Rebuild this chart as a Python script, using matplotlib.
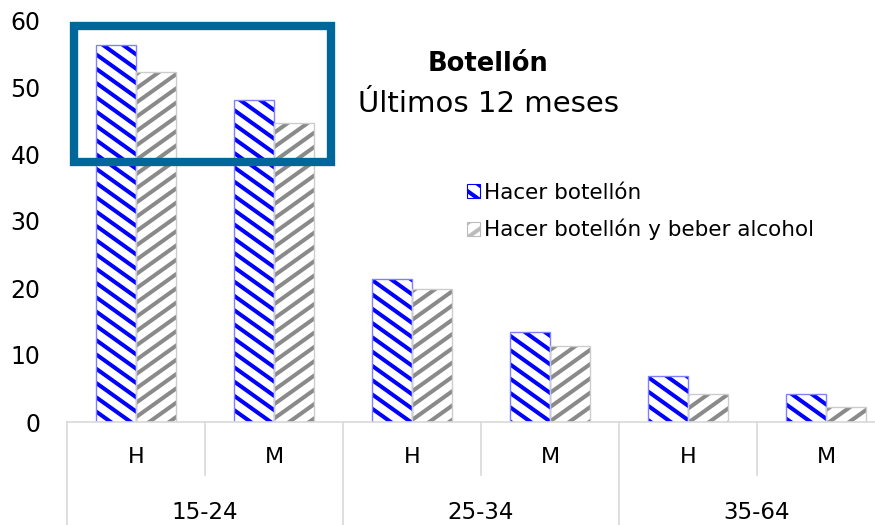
import matplotlib
matplotlib.use("Agg")
import matplotlib.pyplot as plt
import matplotlib.transforms as mtransforms
import matplotlib.hatch as mhatch
from matplotlib.path import Path
from matplotlib.patches import Rectangle, Patch
import numpy as np

# ---------------------------- data ----------------------------
sexes = ["H", "M", "H", "M", "H", "M"]
age_groups = ["15-24", "25-34", "35-64"]
botellon = [56.3, 48.0, 21.3, 13.4, 6.8, 4.2]
botellon_alcohol = [52.2, 44.7, 19.9, 11.4, 4.2, 2.2]
series_names = ["Hacer botellón", "Hacer botellón y beber alcohol"]
yticks = [0, 10, 20, 30, 40, 50, 60]


# ---------------------------- rayas tipo Excel (pendiente 5/7) ----------------------------
N_RAYAS = 7
PEND = 5 / 7


class RayasBajada(mhatch.HatchPatternBase):
    """'\\' : rayas que bajan hacia la derecha"""
    def __init__(self, hatch, density):
        n = hatch.count('\\')
        self.offsets = np.arange(-2, 15) / N_RAYAS if n else np.array([])
        self.num_vertices = 2 * len(self.offsets)

    def set_vertices_and_codes(self, vertices, codes):
        c = self.offsets
        vertices[0::2, 0] = -0.2
        vertices[0::2, 1] = c + 0.2 * PEND
        vertices[1::2, 0] = 1.2
        vertices[1::2, 1] = c - 1.2 * PEND
        codes[0::2] = Path.MOVETO
        codes[1::2] = Path.LINETO


class RayasSubida(mhatch.HatchPatternBase):
    """'/' : rayas que suben hacia la derecha"""
    def __init__(self, hatch, density):
        n = hatch.count('/')
        self.offsets = np.arange(-8, 10) / N_RAYAS if n else np.array([])
        self.num_vertices = 2 * len(self.offsets)

    def set_vertices_and_codes(self, vertices, codes):
        c = self.offsets
        vertices[0::2, 0] = -0.2
        vertices[0::2, 1] = c - 0.2 * PEND
        vertices[1::2, 0] = 1.2
        vertices[1::2, 1] = c + 1.2 * PEND
        codes[0::2] = Path.MOVETO
        codes[1::2] = Path.LINETO


mhatch._hatch_types = [t for t in mhatch._hatch_types
                       if t not in (mhatch.NorthEastHatch, mhatch.SouthEastHatch)]
mhatch._hatch_types += [RayasBajada, RayasSubida]

plt.rcParams['font.family'] = ['DejaVu Sans']
plt.rcParams['hatch.linewidth'] = 2.9

fig = plt.figure(figsize=(8.75, 5.25), dpi=100)
ax = fig.add_axes([67 / 875, 103 / 525, 828 / 875, 402 / 525])

x = np.arange(len(sexes))
w = 0.29

blue = "#0000FF"
grey = "#8A8A8A"

# relleno con rayas
ax.bar(x - w / 2, botellon, w, color="white", edgecolor=blue, hatch="\\", linewidth=0)
ax.bar(x + w / 2, botellon_alcohol, w, color="white", edgecolor=grey, hatch="/", linewidth=0)
# contornos
ax.bar(x - w / 2, botellon, w, fill=False, edgecolor="#8080FF", linewidth=1)
ax.bar(x + w / 2, botellon_alcohol, w, fill=False, edgecolor="#CCCCCC", linewidth=1)

ax.set_xlim(-0.5, len(sexes) - 0.5)
ax.set_ylim(0, 60)
ax.set_yticks(yticks)
ax.tick_params(axis="y", length=0, pad=19, labelsize=17)
ax.set_xticks([])
for s in ["top", "right", "left"]:
    ax.spines[s].set_visible(False)
ax.spines["bottom"].set_color("#D9D9D9")
ax.spines["bottom"].set_linewidth(1.2)

# ejes de categorías en dos niveles
trans = mtransforms.blended_transform_factory(ax.transData, ax.transAxes)
for i, s in enumerate(sexes):
    ax.text(i, -0.087, s, transform=trans, ha="center", va="center", fontsize=16)
for j, g in enumerate(age_groups):
    ax.text(2 * j + 0.5, -0.226, g, transform=trans, ha="center", va="center", fontsize=16.5)
for b in np.arange(-0.5, len(sexes), 1.0):
    k = int(round(b + 0.5))
    y_end = -0.26 if k % 2 == 0 else -0.132
    ax.plot([b, b], [0, y_end], transform=trans, color="#D9D9D9", lw=1.2, clip_on=False)

# título
fig.text(488 / 875, 1 - 64 / 525, "Botellón", ha="center", va="center",
         fontsize=18.5, fontweight="bold")
fig.text(488 / 875, 1 - 104 / 525, "Últimos 12 meses", ha="center", va="center",
         fontsize=21)

# leyenda
handles = [Patch(facecolor="white", edgecolor=blue, hatch="\\", linewidth=0.8),
           Patch(facecolor="white", edgecolor="#BBBBBB", hatch="/", linewidth=0.8)]
fig.legend(handles, series_names, loc="upper left", bbox_to_anchor=(458 / 875, 1 - 174 / 525),
           frameon=False, fontsize=15.5, handlelength=0.6, handleheight=0.6,
           handletextpad=0.2, labelspacing=0.75, borderaxespad=0)

# recuadro
fig.patches.append(Rectangle((74 / 875, 1 - 162 / 525), 257 / 875, 136 / 525,
                             transform=fig.transFigure, fill=False,
                             edgecolor="#00679A", linewidth=6))

fig.savefig("out.png", dpi=100)
